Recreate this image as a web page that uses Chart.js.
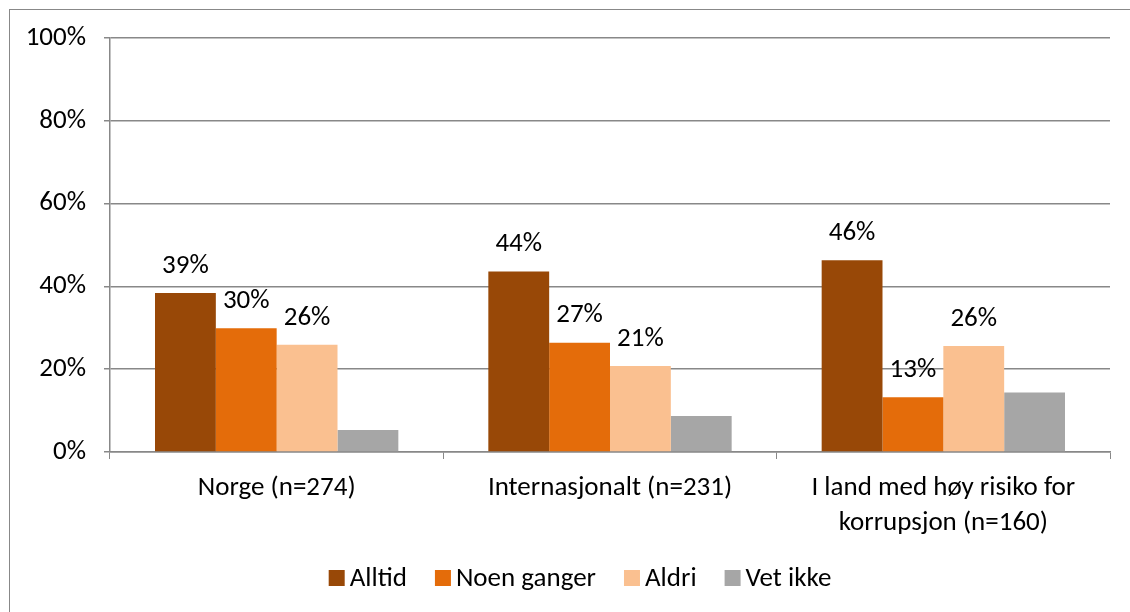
<!DOCTYPE html>
<html>
<head>
<meta charset="utf-8">
<script src="https://cdn.jsdelivr.net/npm/chart.js@4.4.1/dist/chart.umd.min.js"></script>
<style>
  html, body { margin: 0; padding: 0; background: #fff; }
  #wrap { position: relative; width: 1130px; height: 612px; overflow: hidden; }
  #frame { position: absolute; left: 9px; top: 9px; width: 1200px; height: 700px; border-left: 1.5px solid #888; border-top: 1.5px solid #888; box-sizing: border-box; }
  canvas { position: absolute; left: 0; top: 0; }
</style>
</head>
<body>
<div id="wrap">
  <div id="frame"></div>
  <canvas id="c" width="1130" height="612"></canvas>
</div>
<script>
const categories = ["Norge (n=274)", "Internasjonalt (n=231)", ["I land med høy risiko for", "korrupsjon (n=160)"]];
const seriesNames = ["Alltid", "Noen ganger", "Aldri", "Vet ikke"];
const alltid = [38.4, 43.6, 46.3];
const noenGanger = [29.9, 26.4, 13.2];
const aldri = [25.9, 20.8, 25.6];
const vetIkke = [5.3, 8.7, 14.4];
const labelsAlltid = ["39%", "44%", "46%"];
const labelsNoen = ["30%", "27%", "13%"];
const labelsAldri = ["26%", "21%", "26%"];
const yTicks = [0, 20, 40, 60, 80, 100];

const colors = ["#984807", "#E46C0A", "#FAC090", "#A6A6A6"];
const FONT = "Carlito, Calibri, Lato, sans-serif";
const FS = 27;

const valueLabels = [labelsAlltid, labelsNoen, labelsAldri, null];

const labelPlugin = {
  id: 'valueLabels',
  afterDatasetsDraw(chart) {
    const ctx = chart.ctx;
    ctx.save();
    ctx.font = FS + "px " + FONT;
    ctx.fillStyle = "#000";
    ctx.textAlign = "center";
    ctx.textBaseline = "middle";
    chart.data.datasets.forEach((ds, di) => {
      const labs = valueLabels[di];
      if (!labs) return;
      const meta = chart.getDatasetMeta(di);
      meta.data.forEach((bar, i) => {
        ctx.fillText(labs[i], bar.x, bar.y - 27);
      });
    });
    ctx.restore();
  }
};

const legendPlugin = {
  id: 'customLegend',
  afterDraw(chart) {
    const ctx = chart.ctx;
    const box = 16, boxGap = 5, itemGap = 28;
    const cy = 578;
    ctx.save();
    ctx.font = FS + "px " + FONT;
    ctx.textBaseline = "middle";
    ctx.textAlign = "left";
    const items = chart.data.datasets.map(ds => ({ text: ds.label, color: ds.backgroundColor, w: ctx.measureText(ds.label).width }));
    let total = 0;
    items.forEach((it, i) => { total += box + boxGap + it.w + (i < items.length - 1 ? itemGap : 0); });
    let x = chart.width / 2 + 15 - total / 2;
    items.forEach(it => {
      ctx.fillStyle = it.color;
      ctx.fillRect(x, cy - box / 2, box, box);
      x += box + boxGap;
      ctx.fillStyle = "#000";
      ctx.fillText(it.text, x, cy + 1);
      x += it.w + itemGap;
    });
    ctx.restore();
  }
};

new Chart(document.getElementById('c'), {
  type: 'bar',
  data: {
    labels: categories,
    datasets: [
      { label: seriesNames[0], data: alltid, backgroundColor: colors[0] },
      { label: seriesNames[1], data: noenGanger, backgroundColor: colors[1] },
      { label: seriesNames[2], data: aldri, backgroundColor: colors[2] },
      { label: seriesNames[3], data: vetIkke, backgroundColor: colors[3] }
    ]
  },
  options: {
    responsive: false,
    animation: false,
    events: [],
    layout: { padding: { top: 38, right: 20, left: 0, bottom: 75 } },
    datasets: { bar: { categoryPercentage: 0.73, barPercentage: 1.0, borderWidth: 0 } },
    scales: {
      x: {
        grid: { display: true, drawOnChartArea: false, drawTicks: true, tickLength: 7, color: '#888', offset: true },
        border: { display: true, color: '#888', width: 1.5 },
        ticks: { font: { family: FONT, size: FS, lineHeight: 1.3 }, color: '#000', padding: 12, maxRotation: 0, autoSkip: false },
        afterFit: s => { s.height = 85; }
      },
      y: {
        min: 0, max: 100,
        afterBuildTicks: s => { s.ticks = yTicks.map(v => ({ value: v })); },
        grid: { color: '#888', lineWidth: 1.5, tickLength: 6, drawTicks: true },
        border: { display: true, color: '#888', width: 1.5 },
        ticks: { font: { family: FONT, size: FS }, color: '#000', padding: 18, callback: v => v + '%' },
        afterFit: s => { s.width = 110; }
      }
    },
    plugins: {
      legend: { display: false },
      tooltip: { enabled: false }
    }
  },
  plugins: [labelPlugin, legendPlugin]
});
</script>
</body>
</html>
